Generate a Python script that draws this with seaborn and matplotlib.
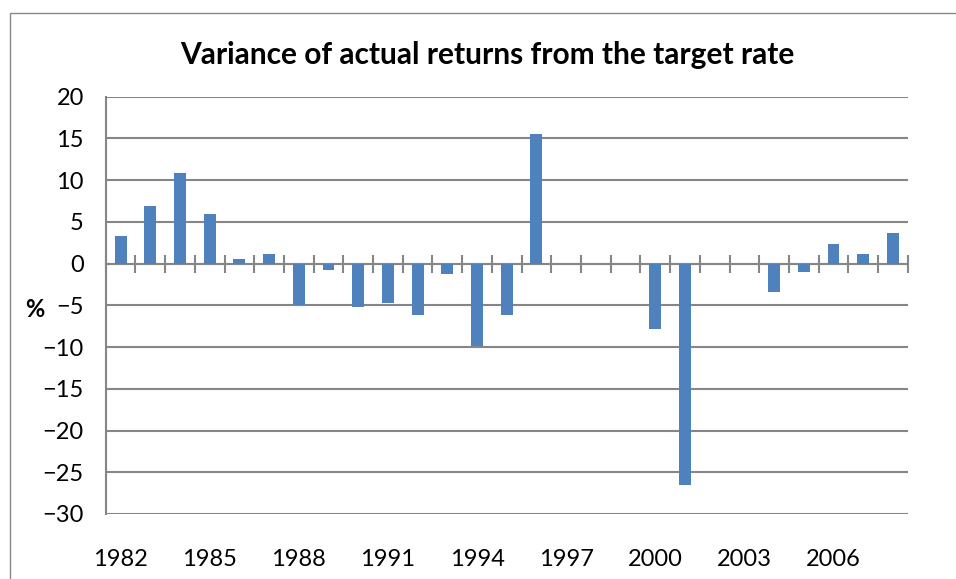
import numpy as np
import pandas as pd
import matplotlib.pyplot as plt
import seaborn as sns
from matplotlib.patches import Rectangle

# ---------------- DATA ----------------
years = [1982, 1983, 1984, 1985, 1986, 1987, 1988, 1989, 1990,
         1991, 1992, 1993, 1994, 1995, 1996, 1997, 1998, 1999,
         2000, 2001, 2002, 2003, 2004, 2005, 2006, 2007, 2008]
variance = [3.3, 6.9, 10.9, 5.9, 0.6, 1.1, -4.9, -0.8, -5.2,
            -4.7, -6.1, -1.3, -9.9, -6.1, 15.5, 0, 0, 0,
            -7.8, -26.5, 0, 0, -3.4, -1.0, 2.3, 1.1, 3.7]
label_years = years[::3]
y_ticks = [-30, -25, -20, -15, -10, -5, 0, 5, 10, 15, 20]

title = "Variance of actual returns from the target rate"

# ---------------- STYLE ----------------
sns.set_theme(style="white")
plt.rcParams["font.family"] = ["Lato", "DejaVu Sans"]

grey = "#868686"
bar_blue = "#4F81BD"
lw = 1.5

df = pd.DataFrame({"year": [str(y) for y in years], "variance": variance})

fig, ax = plt.subplots(figsize=(9.56, 5.79), dpi=100)
fig.subplots_adjust(left=0.1106, right=0.9495, bottom=0.1123, top=0.833)

sns.barplot(data=df, x="year", y="variance", color=bar_blue,
            saturation=1, width=0.4, linewidth=0, ax=ax, zorder=2)

ax.set_xlim(-0.5, len(years) - 0.5)
ax.set_ylim(y_ticks[0], y_ticks[-1])
ax.set_yticks(y_ticks)
ax.yaxis.grid(True, color=grey, linewidth=lw)
ax.set_axisbelow(True)

for side in ["top", "right", "bottom"]:
    ax.spines[side].set_visible(False)
ax.spines["left"].set_color(grey)
ax.spines["left"].set_linewidth(lw)

ax.tick_params(axis="y", direction="out", length=5.8, width=lw,
               color=grey, pad=10, labelsize=17, labelcolor="black")

# year labels at the bottom, every third year
ax.set_xticks([years.index(y) for y in label_years])
ax.set_xticklabels([str(y) for y in label_years])
ax.tick_params(axis="x", length=0, pad=25, labelsize=17, labelcolor="black")
ax.set_xlabel("")

ax.set_ylabel("%", rotation=0, fontsize=17, fontweight="bold",
              color="black", va="center", ha="center")
ax.yaxis.set_label_coords(-0.088, 0.49)

# zero line with crossing tick marks between categories
zero_pos = (0 - y_ticks[0]) / (y_ticks[-1] - y_ticks[0])
sec = ax.secondary_xaxis(zero_pos)
sec.set_xticks(np.arange(-0.5, len(years), 1))
sec.tick_params(direction="inout", length=13, width=lw, color=grey,
                labeltop=False, labelbottom=False)
for sp in sec.spines.values():
    sp.set_color(grey)
    sp.set_linewidth(lw)

fig.suptitle(title, x=0.51, y=0.905, va="center", fontsize=21.5,
             fontweight="bold", color="black")

# chart area frame
fig.add_artist(Rectangle((10 / 956, -0.1), 1.2, 1 - 13 / 579 + 0.1,
                         transform=fig.transFigure, fill=False,
                         edgecolor="#888888", linewidth=1.0))

fig.savefig("out.png", dpi=100)
